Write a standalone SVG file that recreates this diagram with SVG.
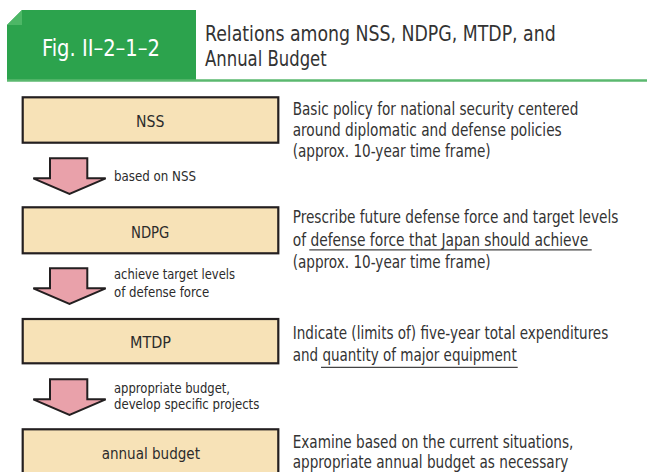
<svg xmlns="http://www.w3.org/2000/svg" width="647" height="472" viewBox="0 0 647 472">
<style>
text{font-family:"DejaVu Sans Condensed","Liberation Sans Narrow",Roboto,"Liberation Sans",sans-serif;fill:#2b2b2b;}
.box{fill:#f7e2b7;stroke:#231f20;stroke-width:2.2;}
.arr{fill:#e9a1aa;stroke:#231f20;stroke-width:2;stroke-linejoin:miter;}
.lbl{font-size:16px;text-anchor:middle;}
.al{font-size:14px;}
.d{font-size:17px;fill:#333;}
.ul{stroke:#444;stroke-width:1.3;}
</style>
<g id="header">
<path d="M7,25 L22,10 H196 V80 H7 Z" fill="#2ca34d"/>
<path d="M7,25 L22,10 V25 Z" fill="#4db766"/>
<line x1="7" y1="80.5" x2="647" y2="80.5" stroke="#5bb86f" stroke-width="2.4"/>
<text x="42" y="56" style="font-size:23.5px;fill:#fff" textLength="118" lengthAdjust="spacingAndGlyphs">Fig. II–2–1–2</text>
<text x="205" y="40.7" style="font-size:22px;fill:#333" textLength="350.7" lengthAdjust="spacingAndGlyphs">Relations among NSS, NDPG, MTDP, and</text>
<text x="205" y="65.5" style="font-size:22px;fill:#333" textLength="121.7" lengthAdjust="spacingAndGlyphs">Annual Budget</text>
</g>
<g id="nss">
<rect class="box" x="22.7" y="97.3" width="255.6" height="45.4"/>
<text class="lbl" x="150.2" y="127.3" textLength="28.3" lengthAdjust="spacingAndGlyphs">NSS</text>
<text class="d" x="292.7" y="115" textLength="285.6" lengthAdjust="spacingAndGlyphs">Basic policy for national security centered</text>
<text class="d" x="292.7" y="135.7" textLength="269" lengthAdjust="spacingAndGlyphs">around diplomatic and defense policies</text>
<text class="d" x="292.7" y="156.7" textLength="198" lengthAdjust="spacingAndGlyphs">(approx. 10-year time frame)</text>
</g>
<g id="ndpg">
<rect class="box" x="22.7" y="207.3" width="255.6" height="46"/>
<text class="lbl" x="150.2" y="238.3" textLength="38.3" lengthAdjust="spacingAndGlyphs">NDPG</text>
<text class="d" transform="translate(292.7 222.7) scale(0.88 1)" x="0" y="0" textLength="370" lengthAdjust="spacingAndGlyphs">Prescribe future defense force and target levels</text>
<text class="d" x="292.7" y="245.7" textLength="295.6" lengthAdjust="spacingAndGlyphs">of defense force that Japan should achieve</text>
<line class="ul" x1="309.3" y1="249.8" x2="591.7" y2="249.8"/>
<text class="d" x="292.7" y="268.3" textLength="198" lengthAdjust="spacingAndGlyphs">(approx. 10-year time frame)</text>
</g>
<g id="mtdp">
<rect class="box" x="22.7" y="319" width="255.6" height="44.3"/>
<text class="lbl" x="150.5" y="348.3" textLength="41" lengthAdjust="spacingAndGlyphs">MTDP</text>
<text class="d" transform="translate(292.7 339) scale(0.88 1)" x="0" y="0" textLength="358.6" lengthAdjust="spacingAndGlyphs">Indicate (limits of) five-year total expenditures</text>
<text class="d" x="292.7" y="361" textLength="224" lengthAdjust="spacingAndGlyphs">and quantity of major equipment</text>
<line class="ul" x1="321" y1="367.3" x2="517.7" y2="367.3"/>
</g>
<g id="annual-budget">
<rect class="box" x="22.7" y="429.3" width="255.6" height="50"/>
<text class="lbl" x="150.8" y="459.3" textLength="98.3" lengthAdjust="spacingAndGlyphs">annual budget</text>
<text class="d" x="292.7" y="448.3" textLength="280.6" lengthAdjust="spacingAndGlyphs">Examine based on the current situations,</text>
<text class="d" x="292.7" y="468.3" textLength="275.6" lengthAdjust="spacingAndGlyphs">appropriate annual budget as necessary</text>
</g>
<g id="connectors">
<g id="arrow1">
<path class="arr" d="M50,158.3 H87.3 V178.3 H105.7 L69.5,194 L33.3,178.3 H50 Z"/>
<text class="al" x="114" y="180.7" textLength="82" lengthAdjust="spacingAndGlyphs">based on NSS</text>
</g>
<g id="arrow2">
<path class="arr" d="M50,268.3 H87.3 V288.3 H105.7 L69.5,304 L33.3,288.3 H50 Z"/>
<text class="al" x="114" y="278.7" textLength="121" lengthAdjust="spacingAndGlyphs">achieve target levels</text>
<text class="al" x="114" y="296.7" textLength="95.3" lengthAdjust="spacingAndGlyphs">of defense force</text>
</g>
<g id="arrow3">
<path class="arr" d="M50,379.3 H87.3 V399.3 H105.7 L69.5,415 L33.3,399.3 H50 Z"/>
<text class="al" x="114" y="392.7" textLength="116" lengthAdjust="spacingAndGlyphs">appropriate budget,</text>
<text class="al" x="114" y="409.3" textLength="145.3" lengthAdjust="spacingAndGlyphs">develop specific projects</text>
</g>
</g>
</svg>
